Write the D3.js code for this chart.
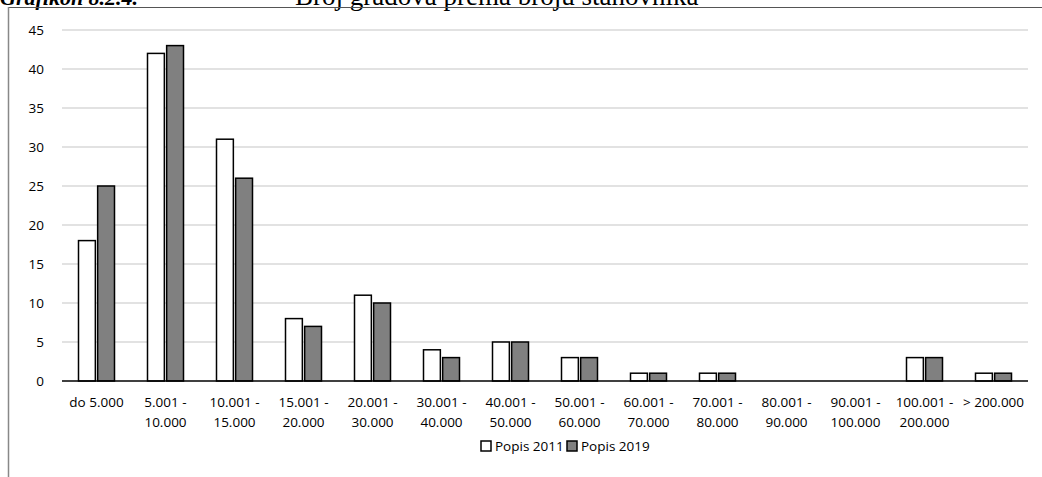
<!DOCTYPE html>
<html>
<head>
<meta charset="utf-8">
<script src="https://cdn.jsdelivr.net/npm/d3@7"></script>
<style>
  body { margin: 0; background: #fff; }
  svg { display: block; }
  .tick-label { font-family: 'Open Sans', sans-serif; font-size: 13.5px; fill: #000; }
  .legend-label { font-family: 'Open Sans', sans-serif; font-size: 13.5px; fill: #000; }
  .title { font-family: 'Liberation Serif', 'DejaVu Serif', serif; font-size: 27px; fill: #000; }
</style>
</head>
<body>
<div id="vis"></div>
<script>
  // categories (two lines each, as in the original)
  const categories = [
    ['do 5.000'],
    ['5.001 -', '10.000'],
    ['10.001 -', '15.000'],
    ['15.001 -', '20.000'],
    ['20.001 -', '30.000'],
    ['30.001 -', '40.000'],
    ['40.001 -', '50.000'],
    ['50.001 -', '60.000'],
    ['60.001 -', '70.000'],
    ['70.001 -', '80.000'],
    ['80.001 -', '90.000'],
    ['90.001 -', '100.000'],
    ['100.001 -', '200.000'],
    ['> 200.000']
  ];
  const popis2011 = [18, 42, 31, 8, 11, 4, 5, 3, 1, 1, 0, 0, 3, 1];
  const popis2019 = [25, 43, 26, 7, 10, 3, 5, 3, 1, 1, 0, 0, 3, 1];
  const seriesNames = ['Popis 2011', 'Popis 2019'];
  const seriesColors = ['#ffffff', '#808080'];
  const yTicks = [0, 5, 10, 15, 20, 25, 30, 35, 40, 45];

  const width = 1042;
  const height = 477;
  const margin = { left: 62, right: 14, top: 30, bottom: 96 };

  const svg = d3.select('#vis').append('svg')
    .attr('width', width)
    .attr('height', height);

  // title, cut off by the top edge like in the source picture
  svg.append('text')
    .attr('class', 'title')
    .attr('x', 0)
    .attr('y', 5)
    .style('font-style', 'italic')
    .style('font-weight', 'bold')
    .style('font-size', '22px')
    .text('Grafikon 8.2.4.');
  svg.append('text')
    .attr('class', 'title')
    .attr('x', 295)
    .attr('y', 5)
    .text('Broj gradova prema broju stanovnika');

  // frame
  svg.append('line')
    .attr('x1', 8).attr('x2', width).attr('y1', 7.5).attr('y2', 7.5)
    .attr('stroke', '#555').attr('stroke-width', 1);
  svg.append('line')
    .attr('x1', 8.5).attr('x2', 8.5).attr('y1', 7).attr('y2', height)
    .attr('stroke', '#888').attr('stroke-width', 1.5);

  const x = d3.scaleBand()
    .domain(d3.range(categories.length))
    .range([margin.left, width - margin.right]);

  const xInner = d3.scaleBand()
    .domain([0, 1])
    .range([0, 36])
    .paddingInner(0.12);

  const y = d3.scaleLinear()
    .domain([0, 45])
    .range([height - margin.bottom, margin.top]);

  // gridlines
  svg.append('g')
    .selectAll('line')
    .data(yTicks.filter(d => d > 0))
    .join('line')
    .attr('x1', margin.left)
    .attr('x2', width - margin.right)
    .attr('y1', d => y(d))
    .attr('y2', d => y(d))
    .attr('stroke', '#d9d9d9')
    .attr('stroke-width', 1.5);

  // y axis labels
  const yAxis = d3.axisLeft(y).tickValues(yTicks).tickSize(0).tickPadding(18);
  const yG = svg.append('g')
    .attr('transform', 'translate(' + margin.left + ',0)')
    .call(yAxis);
  yG.select('.domain').remove();
  yG.selectAll('text').attr('class', 'tick-label').attr('font-size', null).attr('font-family', null);

  // bars
  const series = [popis2011, popis2019];
  series.forEach((values, s) => {
    svg.append('g')
      .selectAll('rect')
      .data(values)
      .join('rect')
      .attr('x', (d, i) => x(i) + (x.bandwidth() - 36) / 2 + xInner(s))
      .attr('width', xInner.bandwidth())
      .attr('y', d => y(d))
      .attr('height', d => y(0) - y(d))
      .attr('fill', seriesColors[s])
      .attr('stroke', '#000')
      .attr('stroke-width', 1.5);
  });

  // baseline
  svg.append('line')
    .attr('x1', margin.left)
    .attr('x2', width - margin.right)
    .attr('y1', y(0))
    .attr('y2', y(0))
    .attr('stroke', '#000')
    .attr('stroke-width', 1.5);

  // category labels
  const catG = svg.append('g')
    .selectAll('text')
    .data(categories)
    .join('text')
    .attr('class', 'tick-label')
    .attr('text-anchor', 'middle')
    .attr('x', (d, i) => x(i) + x.bandwidth() / 2)
    .attr('y', y(0) + 26);
  catG.selectAll('tspan')
    .data(d => d)
    .join('tspan')
    .attr('x', function() { return d3.select(this.parentNode).attr('x'); })
    .attr('dy', (d, i) => i === 0 ? 0 : 20)
    .text(d => d);

  // legend
  const legendX = [481, 567];
  const legend = svg.append('g')
    .selectAll('g')
    .data(seriesNames)
    .join('g')
    .attr('transform', (d, i) => 'translate(' + legendX[i] + ',441)');
  legend.append('rect')
    .attr('width', 10)
    .attr('height', 10)
    .attr('fill', (d, i) => seriesColors[i])
    .attr('stroke', '#000')
    .attr('stroke-width', 1.5);
  legend.append('text')
    .attr('class', 'legend-label')
    .attr('x', 14)
    .attr('y', 10)
    .text(d => d);
</script>
</body>
</html>
